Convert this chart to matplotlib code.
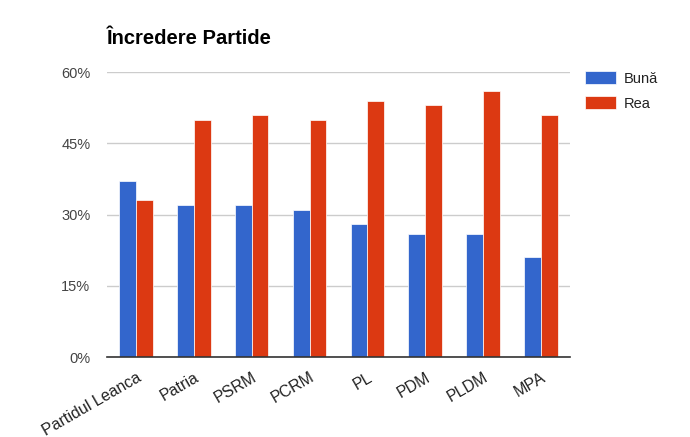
import matplotlib.pyplot as plt
import numpy as np

parties = ['Partidul Leanca', 'Patria', 'PSRM', 'PCRM', 'PL', 'PDM', 'PLDM', 'MPA']
buna = [37, 32, 32, 31, 28, 26, 26, 21]
rea = [33, 50, 51, 50, 54, 53, 56, 51]
yticks = [0, 15, 30, 45, 60]

plt.rcParams['font.family'] = ['Liberation Sans', 'DejaVu Sans']

fig = plt.figure(figsize=(6.9, 4.37), dpi=100)
ax = fig.add_axes([0.155, 0.183, 0.671, 0.652])

x = np.arange(len(parties))
w = 0.29
ax.bar(x - w / 2, buna, w, color='#3366cc', edgecolor='white', linewidth=0.5, label='Bună', zorder=3)
ax.bar(x + w / 2, rea, w, color='#dc3912', edgecolor='white', linewidth=0.5, label='Rea', zorder=3)

ax.set_xlim(-0.5, len(parties) - 0.5)
ax.set_ylim(0, 60)
ax.set_yticks(yticks)
ax.set_yticklabels(['%d%%' % v for v in yticks], color='#444444', fontsize=10.5)
ax.set_xticks(x)
ax.set_xticklabels(parties, rotation=30, ha='right', rotation_mode='anchor',
                   color='#222222', fontsize=11.5)
ax.tick_params(length=0, axis='both')
ax.tick_params(axis='y', pad=12)
ax.tick_params(axis='x', pad=9)
ax.grid(axis='y', color='#cccccc', linewidth=1, zorder=0)
for s in ['top', 'right', 'left']:
    ax.spines[s].set_visible(False)
ax.spines['bottom'].set_color('#333333')
ax.spines['bottom'].set_linewidth(1.2)
ax.spines['bottom'].set_zorder(4)

fig.text(107 / 690, 1 - 38 / 437, 'Încredere Partide', fontsize=14.5, fontweight='bold',
         va='center', ha='left', color='#000000')

leg = ax.legend(loc='upper left', bbox_to_anchor=(1.005, 1.05), frameon=False,
                fontsize=10.5, handlelength=2.1, handleheight=1.0, labelspacing=0.75,
                handletextpad=0.5)
for t in leg.get_texts():
    t.set_color('#222222')

fig.savefig('out.png', dpi=100)
